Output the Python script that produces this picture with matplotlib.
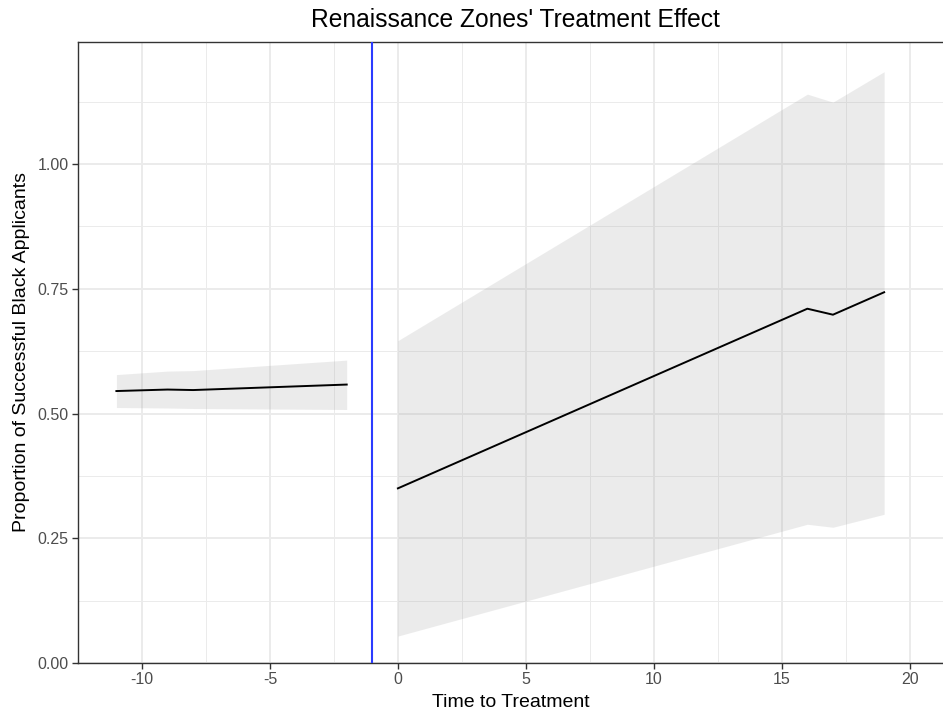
import numpy as np
import matplotlib.pyplot as plt
from matplotlib.ticker import MultipleLocator, FormatStrFormatter

plt.rcParams['font.family'] = ['Liberation Sans', 'DejaVu Sans']
plt.rcParams['axes.unicode_minus'] = False

# Event-study estimates, split at treatment
pre_time = [-11, -9, -8, -2]
pre_est = [0.545, 0.548, 0.547, 0.558]
pre_lo = [0.512, 0.511, 0.510, 0.508]
pre_hi = [0.578, 0.585, 0.586, 0.607]

post_time = [0, 16, 17, 19]
post_est = [0.350, 0.710, 0.698, 0.743]
post_lo = [0.054, 0.278, 0.272, 0.298]
post_hi = [0.646, 1.140, 1.124, 1.185]

treatment_line = -1

GRID = '#EBEBEB'
AXIS = '#333333'

fig = plt.figure(figsize=(9.43, 7.17), dpi=100)
ax = fig.add_axes([78 / 943, 54 / 717, 865 / 943, 621 / 717])

for t, est, lo, hi in [(pre_time, pre_est, pre_lo, pre_hi),
                       (post_time, post_est, post_lo, post_hi)]:
    ax.fill_between(t, lo, hi, color='#999999', alpha=0.19, linewidth=0, zorder=2)
    ax.plot(t, est, color='black', linewidth=1.4, zorder=3)

ax.axvline(treatment_line, color='#2B3BFF', linewidth=1.5, zorder=4)

ax.set_xlim(-12.5, 21.3)
ax.set_ylim(0, 1.2445)
ax.xaxis.set_major_locator(MultipleLocator(5))
ax.xaxis.set_minor_locator(MultipleLocator(2.5))
ax.yaxis.set_major_locator(MultipleLocator(0.25))
ax.yaxis.set_minor_locator(MultipleLocator(0.125))
ax.yaxis.set_major_formatter(FormatStrFormatter('%.2f'))

ax.grid(which='major', color=GRID, linewidth=1.4, zorder=0)
ax.grid(which='minor', color=GRID, linewidth=0.7, zorder=0)
ax.set_axisbelow(True)

for side in ['top', 'left', 'bottom']:
    ax.spines[side].set_color(AXIS)
    ax.spines[side].set_linewidth(1.0)
ax.spines['right'].set_visible(False)

ax.tick_params(which='major', length=4, width=1.0, color=AXIS,
               labelsize=11.5, labelcolor='#4D4D4D', pad=2.8)
ax.tick_params(which='minor', length=0)

ax.set_xlabel('Time to Treatment', fontsize=14, labelpad=5)
ax.set_ylabel('Proportion of Successful Black Applicants', fontsize=14, labelpad=5)
fig.text(515 / 943, 1 - 20 / 717, "Renaissance Zones' Treatment Effect",
         ha='center', va='center', fontsize=17.7)

fig.savefig('out.png', dpi=100)
